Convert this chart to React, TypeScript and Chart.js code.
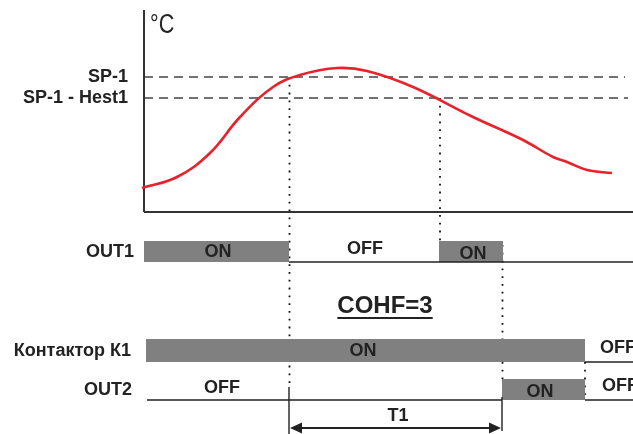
import React, { useEffect, useRef } from "react";
import { Chart, registerables } from "chart.js";

Chart.register(...registerables);

// ---- time axis (arbitrary time units, 0 = start of the plot) ----
const T_MIN = -14.4;
const T_MAX = 48.9;
// ---- vertical axis: temperature units above 0, timing rows placed below ----
const V_MIN = -44.2;
const V_MAX = 42.6;

// temperature curve
const curveTime = [-0.2, 3.3, 6.6, 9.6, 12.9, 15.6, 19.3, 22.3, 26.9, 32.9, 37.9, 40.9, 42.3, 44.3, 46.8];
const curveTemp = [5.0, 7.2, 12.0, 19.2, 25.2, 27.6, 29.0, 28.4, 25.2, 19.2, 14.6, 11.2, 10.2, 8.6, 8.0];

// set points
const SP1 = 27.2;
const HEST1 = 4.2;
const SP1_HEST = SP1 - HEST1;

// events
const E_SP1 = 14.5; // temperature reaches SP-1
const E_HEST = 29.6; // temperature falls to SP-1 - Hest1
const E_T1 = 35.8; // end of T1
const E_K1 = 44.1; // contactor off

// states [from, to]
const out1On: [number, number][] = [[0, E_SP1], [29.5, 35.9]];
const out1Off: [number, number][] = [[E_SP1, T_MAX]];
const k1On: [number, number][] = [[0.2, E_K1]];
const k1Off: [number, number][] = [[E_K1, T_MAX]];
const out2On: [number, number][] = [[E_T1, E_K1]];
const out2Off: [number, number][] = [[0.3, E_T1], [E_K1, T_MAX]];

// row layout (vertical units): [top, bottom]
const ROW_OUT1: [number, number] = [-5.6, -9.8];
const ROW_K1: [number, number] = [-25.2, -29.8];
const ROW_OUT2: [number, number] = [-33.2, -37.4];
const ARROW_V = -43.0;

// text labels
const rowLabels = ["OUT1", "Контактор К1", "OUT2"];
const rowLabelV = [-7.8, -27.6, -35.4];
const rowLabelT = [-1.0, -1.3, -1.2];

const stateText = ["ON", "OFF", "ON", "ON", "OFF", "OFF", "ON", "OFF"];
const stateT = [7.4, 22.1, 32.9, 21.9, 45.6, 7.8, 39.6, 45.8];
const stateV = [-7.8, -7.2, -8.2, -27.6, -27.0, -35.0, -35.8, -34.6];
const stateAlign: CanvasTextAlign[] = ["center", "center", "center", "center", "left", "center", "center", "left"];

const spLabels = ["SP-1", "SP-1 - Hest1"];
const spLabelT = -1.6;

const BOLD = 'bold 18px "Liberation Sans", Arial, sans-serif';
const GRAY = "#808080";
const INK = "#222222";

function seg(a: number, b: number, v: number) {
  return [{ x: a, y: v }, { x: b, y: v }];
}

function offLine(list: [number, number][], v: number) {
  const pts: { x: number; y: number | null }[] = [];
  list.forEach(([a, b], i) => {
    if (i > 0) pts.push({ x: (list[i - 1][1] + a) / 2, y: null });
    pts.push({ x: a, y: v }, { x: b, y: v });
  });
  return pts;
}

const annotations = {
  id: "annotations",
  afterDatasetsDraw(chart: any) {
    const { ctx } = chart;
    const x = chart.scales.x;
    const y = chart.scales.y;
    ctx.save();
    ctx.fillStyle = INK;
    ctx.textBaseline = "middle";

    // °C (slightly condensed)
    ctx.save();
    ctx.font = '27px "Liberation Sans", Arial, sans-serif';
    ctx.textAlign = "left";
    ctx.translate(x.getPixelForValue(0.6), y.getPixelForValue(37.4));
    ctx.scale(0.8, 1);
    ctx.fillText("°C", 0, 0);
    ctx.restore();

    ctx.font = BOLD;
    ctx.textAlign = "right";
    ctx.fillText(spLabels[0], x.getPixelForValue(spLabelT), y.getPixelForValue(SP1));
    ctx.fillText(spLabels[1], x.getPixelForValue(spLabelT), y.getPixelForValue(SP1_HEST));

    rowLabels.forEach((s, i) => {
      ctx.textAlign = "right";
      ctx.fillText(s, x.getPixelForValue(rowLabelT[i]), y.getPixelForValue(rowLabelV[i]));
    });

    stateText.forEach((s, i) => {
      ctx.textAlign = stateAlign[i];
      ctx.fillText(s, x.getPixelForValue(stateT[i]), y.getPixelForValue(stateV[i]));
    });

    // COHF=3 with underline
    ctx.font = 'bold 24px "Liberation Sans", Arial, sans-serif';
    ctx.textAlign = "center";
    const cx = x.getPixelForValue(24.1);
    const cy = y.getPixelForValue(-18.6);
    ctx.fillText("COHF=3", cx, cy);
    const w = ctx.measureText("COHF=3").width;
    ctx.fillRect(cx - w / 2, y.getPixelForValue(-21.0) - 1, w, 2);

    // T1
    ctx.font = BOLD;
    ctx.fillText("T1", x.getPixelForValue(25.4), y.getPixelForValue(-40.6));

    // arrow heads
    const ay = y.getPixelForValue(ARROW_V);
    const l = x.getPixelForValue(E_SP1) + 1;
    const r = x.getPixelForValue(E_T1) - 1;
    ctx.beginPath();
    ctx.moveTo(l, ay);
    ctx.lineTo(l + 12, ay - 5.5);
    ctx.lineTo(l + 12, ay + 5.5);
    ctx.closePath();
    ctx.moveTo(r, ay);
    ctx.lineTo(r - 12, ay - 5.5);
    ctx.lineTo(r - 12, ay + 5.5);
    ctx.closePath();
    ctx.fill();
    ctx.restore();
  },
};

export default function App() {
  const ref = useRef<HTMLCanvasElement | null>(null);

  useEffect(() => {
    document.body.style.margin = "0";
    if (!ref.current) return;

    const line = (data: any[], extra: any = {}) => ({
      type: "line",
      data,
      borderColor: INK,
      borderWidth: 1.5,
      pointRadius: 0,
      tension: 0,
      fill: false,
      spanGaps: false,
      ...extra,
    });

    const dotted = { borderDash: [1.8, 6], borderWidth: 1.8, borderColor: "#111", order: 9 };

    const bars = (list: [number, number][], row: [number, number]) =>
      list.map(([a, b]) =>
        line(seg(a, b, row[0]), {
          borderWidth: 0,
          backgroundColor: GRAY,
          fill: { value: row[1] },
          order: 5,
        })
      );

    const datasets: any[] = [
      // temperature curve
      line(curveTime.map((t, i) => ({ x: t, y: curveTemp[i] })), {
        borderColor: "#e8212b",
        borderWidth: 2.6,
        tension: 0.4,
        order: 1,
      }),
      // axes
      line([{ x: 0, y: 0.2 }, { x: 0, y: 40.6 }], { borderColor: "#333", borderWidth: 2, order: 2 }),
      line(seg(0, T_MAX, 0.2), { borderColor: "#333", borderWidth: 2, order: 2 }),
      // set-point lines
      line(seg(0, 48.1, SP1), { borderColor: "#444", borderDash: [9, 6], borderWidth: 1.4, order: 3 }),
      line(seg(0, 48.4, SP1_HEST), { borderColor: "#444", borderDash: [9, 6], borderWidth: 1.4, order: 3 }),
      // dotted event lines
      line([{ x: E_SP1 + 0.05, y: SP1 }, { x: E_SP1 + 0.05, y: -34.8 }], dotted),
      line([{ x: E_HEST, y: SP1_HEST }, { x: E_HEST, y: ROW_OUT1[0] }], dotted),
      line([{ x: E_T1 + 0.05, y: ROW_OUT1[0] - 0.8 }, { x: E_T1 + 0.05, y: ROW_OUT2[0] }], dotted),
      line([{ x: E_K1, y: ROW_K1[1] }, { x: E_K1, y: ROW_OUT2[1] }], dotted),
      // T1 dimension
      line([{ x: E_SP1, y: -34.8 }, { x: E_SP1, y: V_MIN }], { borderWidth: 1.4, order: 4 }),
      line([{ x: E_T1, y: -36.8 }, { x: E_T1, y: -43.6 }], { borderWidth: 1.4, order: 4 }),
      line(seg(E_SP1 + 0.5, E_T1 - 0.5, ARROW_V), { borderWidth: 2, order: 4 }),
      // state bars
      ...bars(out1On, ROW_OUT1),
      ...bars(k1On, ROW_K1),
      ...bars(out2On, ROW_OUT2),
      // off lines
      line(offLine(out1Off, ROW_OUT1[1]), { order: 4 }),
      line(offLine(k1Off, ROW_K1[1]), { order: 4 }),
      line(offLine(out2Off, ROW_OUT2[1]), { order: 4 }),
    ];

    const chart = new Chart(ref.current, {
      type: "line",
      data: { datasets },
      options: {
        animation: false,
        responsive: false,
        maintainAspectRatio: false,
        layout: { padding: 0 },
        parsing: false as any,
        normalized: true,
        scales: {
          x: { type: "linear", min: T_MIN, max: T_MAX, display: false },
          y: { type: "linear", min: V_MIN, max: V_MAX, display: false },
        },
        plugins: {
          legend: { display: false },
          tooltip: { enabled: false },
        },
        events: [],
      },
      plugins: [annotations],
    } as any);

    return () => chart.destroy();
  }, []);

  return (
    <div style={{ position: "absolute", left: 0, top: 0, width: 633, height: 434, background: "#fff" }}>
      <canvas ref={ref} width={633} height={434} />
    </div>
  );
}
